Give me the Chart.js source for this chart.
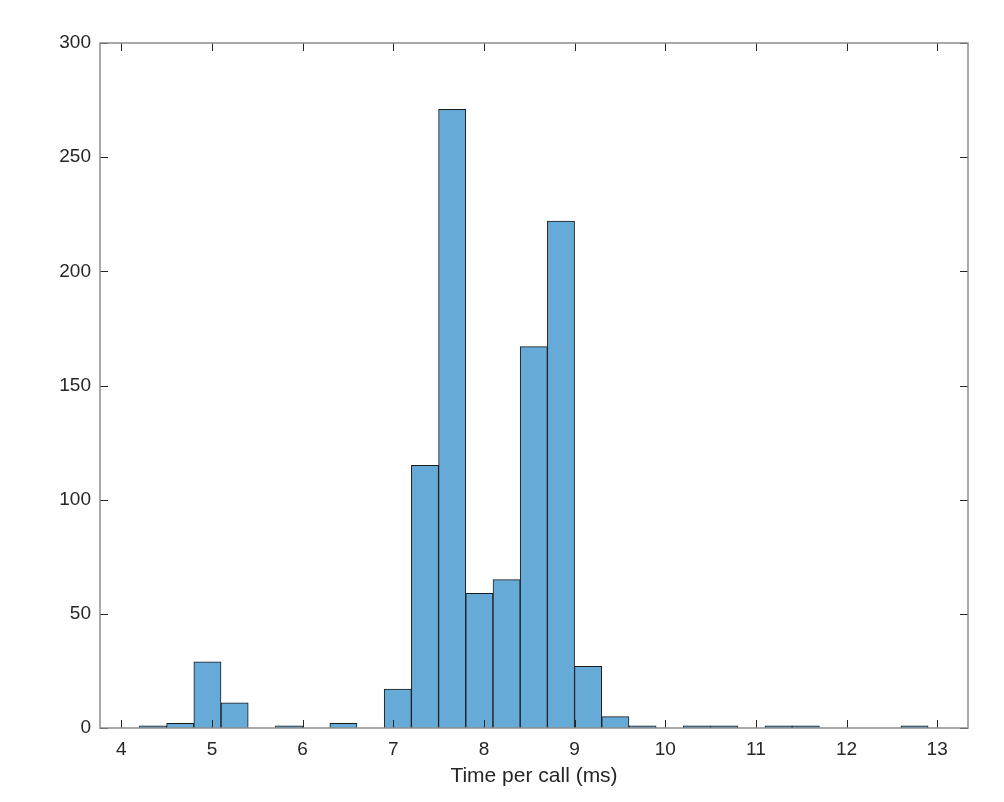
<!DOCTYPE html>
<html>
<head>
<meta charset="utf-8">
<script src="https://cdn.jsdelivr.net/npm/chart.js@4/dist/chart.umd.min.js"></script>
<style>
  html, body { margin: 0; padding: 0; background: #fff; }
  #wrap { width: 1004px; height: 802px; }
</style>
</head>
<body>
<div id="wrap"><canvas id="histChart"></canvas></div>
<script>
// bin centres (bin width 0.3 ms, first edge 4.2) and counts
var binCenters = [4.35, 4.65, 4.95, 5.25, 5.55, 5.85, 6.15, 6.45, 6.75, 7.05,
                  7.35, 7.65, 7.95, 8.25, 8.55, 8.85, 9.15, 9.45, 9.75, 10.05,
                  10.35, 10.65, 10.95, 11.25, 11.55, 11.85, 12.15, 12.45, 12.75];
var counts = [1, 2, 29, 11, 0, 1, 0, 2, 0, 17,
              115, 271, 59, 65, 167, 222, 27, 5, 1, 0,
              1, 1, 0, 1, 1, 0, 0, 0, 1];
var xTicks = [4, 5, 6, 7, 8, 9, 10, 11, 12, 13];
var yTicks = [0, 50, 100, 150, 200, 250, 300];
var xLabel = 'Time per call (ms)';

var FONT = "'Liberation Sans', Arial, Helvetica, sans-serif";
var TEXT = '#262626';

// MATLAB-like box with inward tick marks on all four sides
var boxPlugin = {
  id: 'matlabBox',
  afterDraw: function(chart) {
    var ctx = chart.ctx, a = chart.chartArea;
    var xs = chart.scales.x, ys = chart.scales.y;
    var len = 8;
    ctx.save();
    ctx.strokeStyle = '#262626';
    ctx.lineWidth = 1;
    ctx.beginPath();
    xTicks.forEach(function(v) {
      var px = Math.round(xs.getPixelForValue(v)) + 0.5;
      ctx.moveTo(px, a.bottom); ctx.lineTo(px, a.bottom - len);
      ctx.moveTo(px, a.top); ctx.lineTo(px, a.top + len);
    });
    yTicks.forEach(function(v) {
      var py = Math.round(ys.getPixelForValue(v)) + 0.5;
      ctx.moveTo(a.left, py); ctx.lineTo(a.left + len, py);
      ctx.moveTo(a.right, py); ctx.lineTo(a.right - len, py);
    });
    ctx.stroke();
    ctx.strokeStyle = '#8c8c8c';
    ctx.lineWidth = 1.5;
    ctx.strokeRect(a.left, a.top, a.right - a.left, a.bottom - a.top);
    ctx.restore();
  }
};

new Chart(document.getElementById('histChart'), {
  type: 'bar',
  data: {
    datasets: [{
      data: binCenters.map(function(c, i) { return { x: c, y: counts[i] }; }),
      backgroundColor: 'rgb(102,170,215)',
      borderColor: '#1a1a1a',
      borderWidth: 1,
      barPercentage: 1,
      categoryPercentage: 1,
      grouped: false
    }]
  },
  options: {
    responsive: true,
    maintainAspectRatio: false,
    animation: false,
    layout: { padding: { top: 43, right: 36, left: 0, bottom: 0 } },
    plugins: {
      legend: { display: false },
      tooltip: { enabled: false }
    },
    scales: {
      x: {
        type: 'linear',
        min: 3.765,
        max: 13.34,
        offset: false,
        grid: { display: false, drawTicks: false },
        border: { display: false },
        afterBuildTicks: function(s) { s.ticks = xTicks.map(function(v) { return { value: v }; }); },
        afterFit: function(s) { s.height = 74; },
        ticks: { padding: 10, color: TEXT, font: { family: FONT, size: 19 }, maxRotation: 0, autoSkip: false },
        title: { display: true, text: xLabel, color: TEXT, font: { family: FONT, size: 21 }, padding: { top: 0, bottom: 13 } }
      },
      y: {
        min: 0,
        max: 300,
        grid: { display: false, drawTicks: false },
        border: { display: false },
        afterBuildTicks: function(s) { s.ticks = yTicks.map(function(v) { return { value: v }; }); },
        afterFit: function(s) { s.width = 100; },
        ticks: { padding: 9, color: TEXT, font: { family: FONT, size: 19 } }
      }
    }
  },
  plugins: [boxPlugin]
});
</script>
</body>
</html>
